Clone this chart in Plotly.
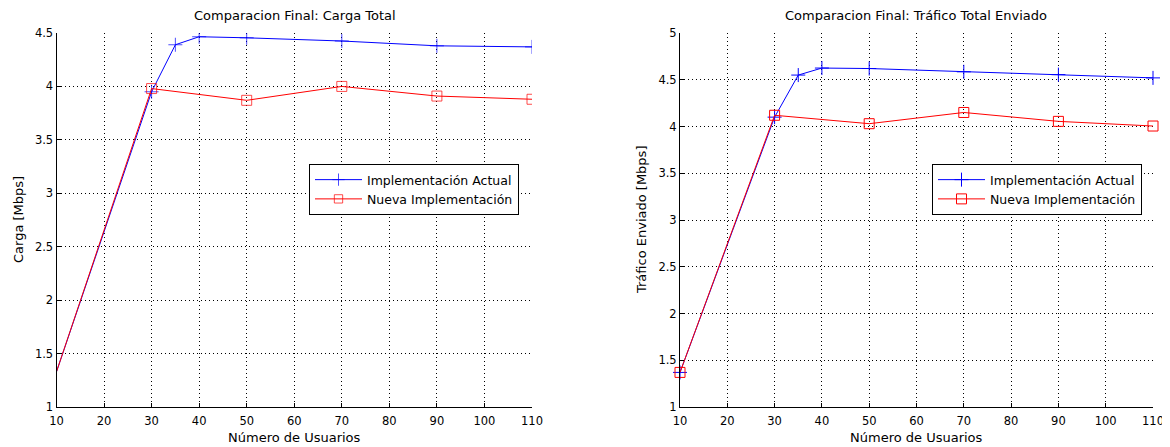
import plotly.graph_objects as go

# Left chart: Carga Total
x_actual = [10, 30, 35, 40, 50, 70, 90, 110]
x_nueva = [10, 30, 50, 70, 90, 110]
carga_actual = [1.33, 3.95, 4.39, 4.465, 4.455, 4.425, 4.38, 4.37]
carga_nueva = [1.33, 3.98, 3.87, 4.0, 3.91, 3.88]

# Right chart: Tráfico Total Enviado
trafico_actual = [1.37, 4.10, 4.55, 4.625, 4.62, 4.585, 4.555, 4.52]
trafico_nueva = [1.37, 4.12, 4.03, 4.15, 4.055, 4.005]

x_ticks = [10, 20, 30, 40, 50, 60, 70, 80, 90, 100, 110]
y_ticks_left = [1, 1.5, 2, 2.5, 3, 3.5, 4, 4.5]
y_ticks_right = [1, 1.5, 2, 2.5, 3, 3.5, 4, 4.5, 5]

name_actual = "Implementación Actual"
name_nueva = "Nueva Implementación"

FONT = "DejaVu Sans, Liberation Sans, Arial, sans-serif"
FS = 13
BLUE = "rgb(0,0,255)"
RED = "rgb(255,0,0)"

W, H = 1170, 447
OFF = 8  # page body margin offset


def px(X):
    return (X - OFF) / W


def py(Y):
    return 1 - (Y - OFF) / H


fig = go.Figure()

# left: markers at the first point are hidden (clipped in original)
left_sizes_a = [0] + [10] * (len(x_actual) - 1)
left_sizes_n = [0] + [10] * (len(x_nueva) - 1)

fig.add_trace(go.Scatter(x=x_actual, y=carga_actual, mode="lines+markers", name=name_actual,
                         line=dict(color=BLUE, width=1),
                         marker=dict(symbol="cross-thin-open", size=left_sizes_a, line=dict(color=BLUE, width=1)),
                         xaxis="x", yaxis="y", legend="legend"))
fig.add_trace(go.Scatter(x=x_nueva, y=carga_nueva, mode="lines+markers", name=name_nueva,
                         line=dict(color=RED, width=1),
                         marker=dict(symbol="square-open", size=left_sizes_n, color=RED, line=dict(color=RED, width=1)),
                         xaxis="x", yaxis="y", legend="legend"))

fig.add_trace(go.Scatter(x=x_actual, y=trafico_actual, mode="lines+markers", name=name_actual,
                         line=dict(color=BLUE, width=1),
                         marker=dict(symbol="cross-thin-open", size=10, line=dict(color=BLUE, width=1)),
                         xaxis="x2", yaxis="y2", legend="legend2", cliponaxis=False))
fig.add_trace(go.Scatter(x=x_nueva, y=trafico_nueva, mode="lines+markers", name=name_nueva,
                         line=dict(color=RED, width=1),
                         marker=dict(symbol="square-open", size=10, color=RED, line=dict(color=RED, width=1)),
                         xaxis="x2", yaxis="y2", legend="legend2", cliponaxis=False))

ydom = [py(407), py(33)]
axis_common = dict(showgrid=True, gridcolor="black", griddash="1px,3px", gridwidth=1,
                   showline=True, linecolor="black", linewidth=1, ticks="inside",
                   ticklen=4, tickcolor="black", zeroline=False, automargin=False,
                   tickfont=dict(family=FONT, size=11.5, color="black"))
xaxis_extra = dict(ticklabelstandoff=3)

leg_common = dict(xanchor="left", yanchor="top", bgcolor="white", bordercolor="black", borderwidth=1,
                  font=dict(family=FONT, size=12.5, color="black"), tracegroupgap=0, itemwidth=47)

fig.update_layout(
    width=W, height=H,
    margin=dict(l=0, r=0, t=0, b=0),
    paper_bgcolor="white", plot_bgcolor="white",
    font=dict(family=FONT, size=FS, color="black"),
    xaxis=dict(domain=[px(56.5), px(532)], range=[10, 110], tickvals=x_ticks, anchor="y",
               **axis_common, **xaxis_extra),
    yaxis=dict(domain=ydom, range=[1, 4.5], tickvals=y_ticks_left, anchor="x", **axis_common),
    xaxis2=dict(domain=[px(680), px(1153)], range=[10, 110], tickvals=x_ticks, anchor="y2",
                **axis_common, **xaxis_extra),
    yaxis2=dict(domain=ydom, range=[1, 5], tickvals=y_ticks_right, anchor="x2", **axis_common),
    legend=dict(x=px(309), y=py(164), **leg_common),
    legend2=dict(x=px(932), y=py(164), **leg_common),
    annotations=[
        dict(text="Comparacion Final: Carga Total", x=px(294.5), y=py(15), xref="paper", yref="paper",
             showarrow=False, xanchor="center", yanchor="middle", font=dict(size=FS)),
        dict(text="Comparacion Final: Tráfico Total Enviado", x=px(916), y=py(15), xref="paper", yref="paper",
             showarrow=False, xanchor="center", yanchor="middle", font=dict(size=FS)),
        dict(text="Número de Usuarios", x=px(294.5), y=py(437), xref="paper", yref="paper",
             showarrow=False, xanchor="center", yanchor="middle", font=dict(size=FS)),
        dict(text="Número de Usuarios", x=px(916), y=py(437), xref="paper", yref="paper",
             showarrow=False, xanchor="center", yanchor="middle", font=dict(size=FS)),
        dict(text="Carga [Mbps]", x=px(18), y=py(220), xref="paper", yref="paper",
             showarrow=False, xanchor="center", yanchor="middle", textangle=-90, font=dict(size=FS)),
        dict(text="Tráfico Enviado [Mbps]", x=px(641), y=py(220), xref="paper", yref="paper",
             showarrow=False, xanchor="center", yanchor="middle", textangle=-90, font=dict(size=FS)),
    ],
)

fig.write_html("out.html")
